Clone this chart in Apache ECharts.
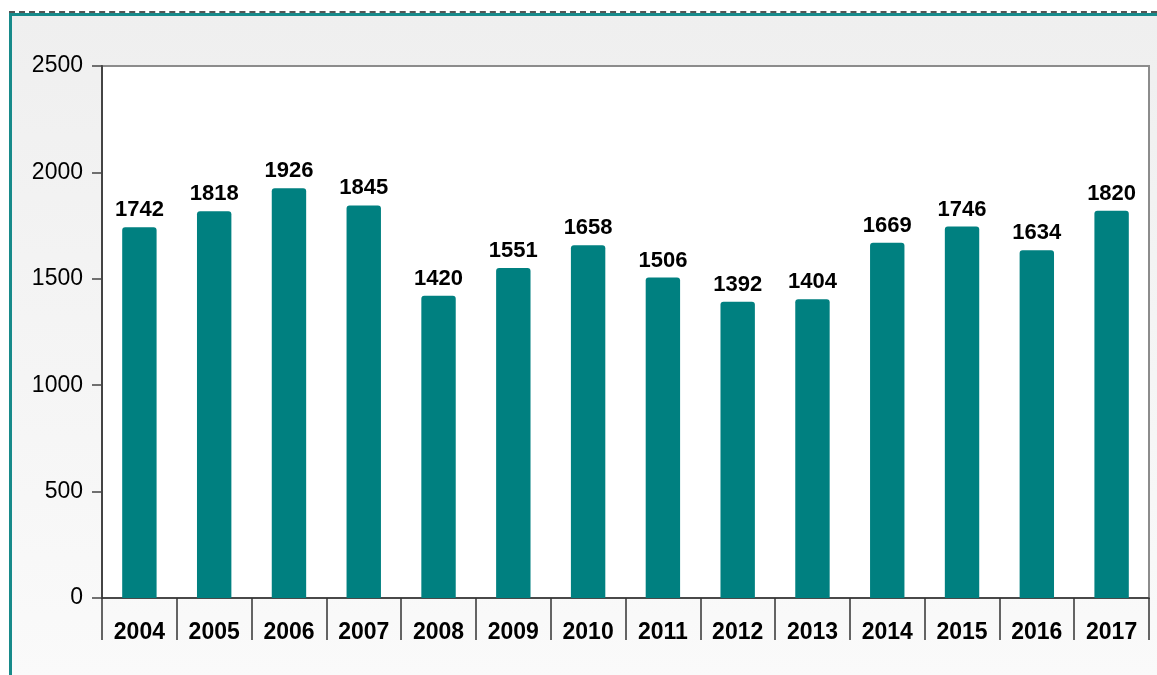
<!DOCTYPE html>
<html>
<head>
<meta charset="utf-8">
<script src="https://cdn.jsdelivr.net/npm/echarts@6/dist/echarts.min.js"></script>
<style>
  html, body { margin: 0; padding: 0; background: #fff; }
  #dash { position: absolute; left: 9px; top: 11px; width: 1148px; height: 0; border-top: 2px dashed #555; }
  #frame {
    position: absolute; left: 9px; top: 13px; width: 1145px; height: 662px;
    border-top: 3px solid #178a8a; border-left: 3px solid #178a8a;
    background: linear-gradient(#efefef, #fafafa);
  }
  #chart { position: absolute; left: 0; top: 0; width: 1157px; height: 675px; }
</style>
</head>
<body>
<div id="dash"></div>
<div id="frame"></div>
<div id="chart"></div>
<script>
const years = ['2004', '2005', '2006', '2007', '2008', '2009', '2010',
  '2011', '2012', '2013', '2014', '2015', '2016', '2017'];
const counts = [1742, 1818, 1926, 1845, 1420, 1551, 1658,
  1506, 1392, 1404, 1669, 1746, 1634, 1820];
const yTicks = [0, 500, 1000, 1500, 2000, 2500];

const chart = echarts.init(document.getElementById('chart'));

chart.setOption({
  animation: false,
  backgroundColor: 'transparent',
  textStyle: { fontFamily: 'Liberation Sans, Arial, sans-serif' },
  grid: {
    left: 102, top: 66, right: 8, bottom: 77,
    show: true,
    backgroundColor: '#fff',
    borderColor: '#8c8c8c',
    borderWidth: 2
  },
  xAxis: {
    type: 'category',
    data: years,
    axisLine: { lineStyle: { color: '#333', width: 1.5 } },
    axisTick: { show: true, alignWithLabel: false, length: 42, lineStyle: { color: '#333', width: 1.5 } },
    axisLabel: {
      margin: 23,
      color: '#000',
      fontSize: 23,
      fontWeight: 'bold'
    }
  },
  yAxis: {
    type: 'value',
    min: yTicks[0],
    max: yTicks[yTicks.length - 1],
    interval: 500,
    axisLine: { show: true, lineStyle: { color: '#444', width: 2 } },
    axisTick: { show: true, length: 10, lineStyle: { color: '#444', width: 1.5 } },
    splitLine: { show: false },
    axisLabel: { margin: 19, color: '#000', fontSize: 23, formatter: v => String(v) }
  },
  series: [{
    type: 'bar',
    data: counts,
    barWidth: '46%',
    itemStyle: { color: '#008080', borderRadius: [3, 3, 0, 0] },
    label: {
      show: true,
      position: 'top',
      distance: 6,
      color: '#000',
      fontSize: 22,
      fontWeight: 'bold'
    }
  }]
});
</script>
</body>
</html>
